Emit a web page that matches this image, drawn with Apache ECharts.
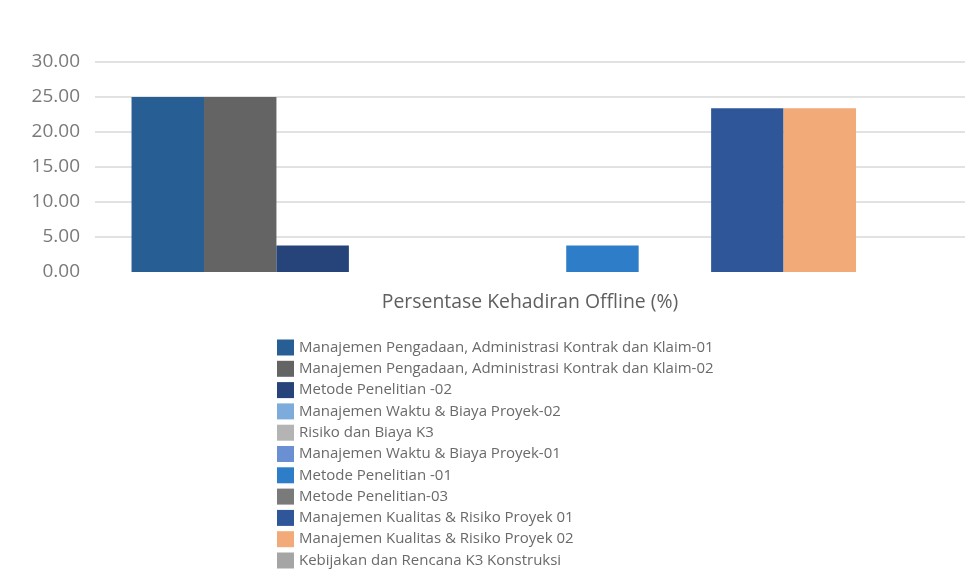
<!DOCTYPE html>
<html>
<head>
<meta charset="utf-8">
<script src="https://cdn.jsdelivr.net/npm/echarts@6/dist/echarts.min.js"></script>
<style>
  html, body { margin: 0; padding: 0; background: #ffffff; }
  #chart { width: 968px; height: 586px; }
</style>
</head>
<body>
<div id="chart"></div>
<script>
// Single category on the x axis
const categories = ['Persentase Kehadiran Offline (%)'];

// One series per course, in legend order
const seriesNames = [
  'Manajemen Pengadaan, Administrasi Kontrak dan Klaim-01',
  'Manajemen Pengadaan, Administrasi Kontrak dan Klaim-02',
  'Metode Penelitian -02',
  'Manajemen Waktu & Biaya Proyek-02',
  'Risiko dan Biaya K3',
  'Manajemen Waktu & Biaya Proyek-01',
  'Metode Penelitian -01',
  'Metode Penelitian-03',
  'Manajemen Kualitas & Risiko Proyek 01',
  'Manajemen Kualitas & Risiko Proyek 02',
  'Kebijakan dan Rencana K3 Konstruksi'
];

// Offline attendance percentage for each course
const seriesValues = [25.0, 25.0, 3.8, 0, 0, 0, 3.8, 0, 23.4, 23.4, 0];

const seriesColors = [
  '#275e94', '#646464', '#26437a', '#7cabdc', '#b4b4b4', '#6a8fd2',
  '#2e7dc8', '#7a7a7a', '#2f5699', '#f2aa78', '#a5a5a5'
];

// Value-axis tick labels
const yTicks = ['0.00', '5.00', '10.00', '15.00', '20.00', '25.00', '30.00'];

const FONT = '"Open Sans", sans-serif';

const chart = echarts.init(document.getElementById('chart'), null, { renderer: 'canvas' });

chart.setOption({
  backgroundColor: '#ffffff',
  animation: false,
  grid: { left: 95, right: 3, top: 62, bottom: 314, containLabel: false },
  xAxis: {
    type: 'category',
    data: categories,
    axisLine: { show: false },
    axisTick: { show: false },
    axisLabel: { fontFamily: FONT, fontSize: 19.4, color: '#5f5f5f', margin: 21 }
  },
  yAxis: {
    type: 'value',
    min: 0,
    max: 30,
    interval: 5,
    axisLine: { show: false },
    axisTick: { show: false },
    axisLabel: {
      fontFamily: FONT,
      fontSize: 19,
      color: '#7a7a7a',
      margin: 15,
      formatter: function (v) { return yTicks[Math.round(v / 5)]; }
    },
    splitLine: { show: true, showMinLine: false, lineStyle: { color: '#e2e2e2', width: 2 } }
  },
  legend: {
    orient: 'vertical',
    left: 272,
    top: 334.5,
    itemWidth: 17,
    itemHeight: 16,
    itemGap: 5.3,
    icon: 'rect',
    textStyle: { fontFamily: FONT, fontSize: 15, color: '#6a6a6a', lineHeight: 16 },
    data: seriesNames
  },
  series: seriesNames.map(function (name, i) {
    return {
      name: name,
      type: 'bar',
      data: [seriesValues[i]],
      barGap: '0%',
      barCategoryGap: '8.4%',
      itemStyle: { color: seriesColors[i] }
    };
  })
});
</script>
</body>
</html>
